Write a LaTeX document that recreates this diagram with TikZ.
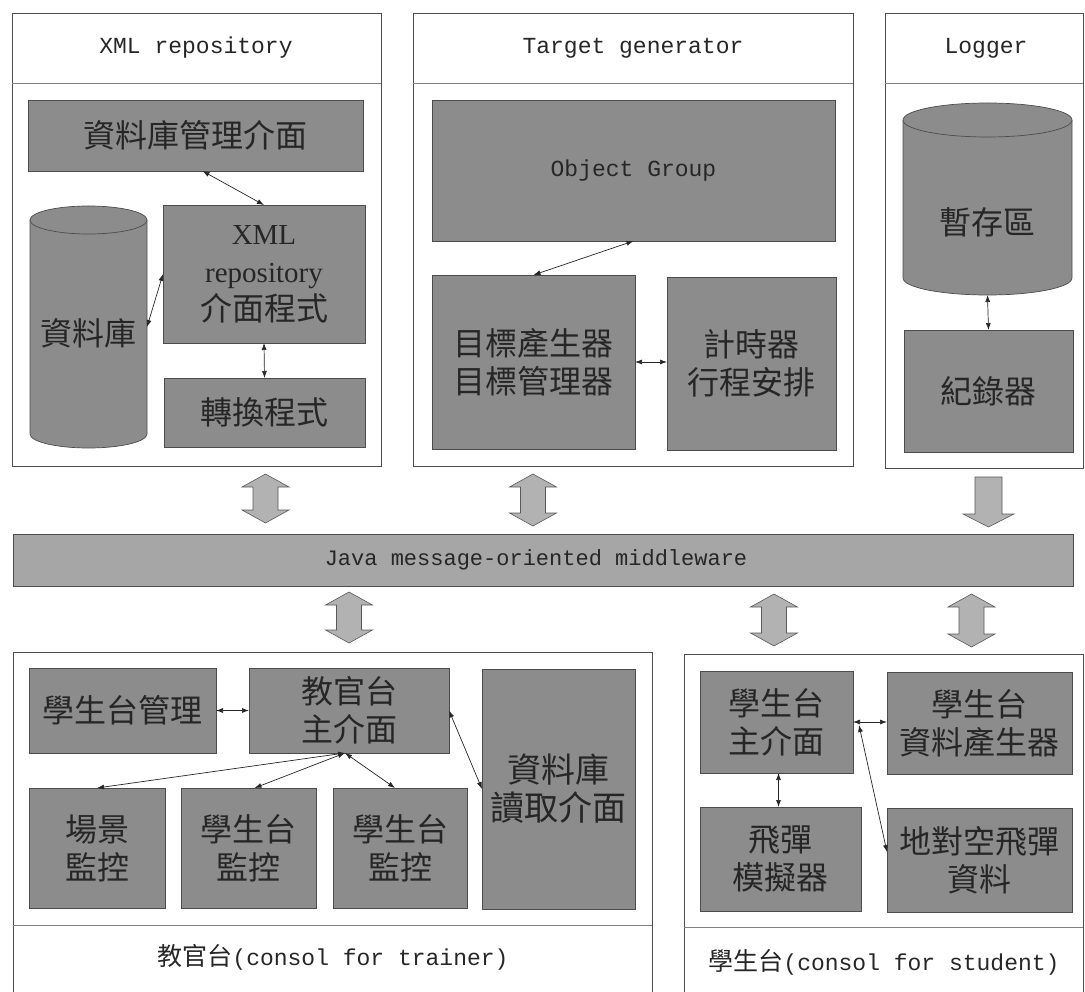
\documentclass[tikz,border=0pt]{standalone}
\usepackage{fontspec}
\setmainfont{Liberation Serif}
\setmonofont{Liberation Mono}
\newfontfamily\cjk{Noto Sans CJK TC}
\usetikzlibrary{arrows.meta}
\newcommand\gb[6]{%
  \node[gbox, anchor=north west, minimum width={(#4-#2)*1pt}, minimum height={(#5-#3)*1pt}] (#1) at (#2,#3) {#6};}
\newcommand\cyl[6]{%
  \pgfmathsetmacro\rxx{(#4-#2)/2}%
  \filldraw[cylbox] (#2,#3+#6) -- (#2,#5-#6) arc[start angle=180,end angle=0,x radius=\rxx,y radius=#6] -- (#4,#3+#6) arc[start angle=0,end angle=-180,x radius=\rxx,y radius=#6] -- cycle;
  \draw[cylbox] (#2,#3+#6) arc[start angle=180,end angle=0,x radius=\rxx,y radius=#6];
  \node[inner sep=0pt, outer sep=0pt, anchor=north west, minimum width={(#4-#2)*1pt}, minimum height={(#5-#3)*1pt}] (#1) at (#2,#3) {};}
\newcommand\dblarr[3]{%
  \filldraw[bigarrow] (#1-23.5,#2+13) -- (#1,#2) -- (#1+23.5,#2+13) -- (#1+12.5,#2+13) -- (#1+12.5,#3-13) -- (#1+23.5,#3-13) -- (#1,#3) -- (#1-23.5,#3-13) -- (#1-12.5,#3-13) -- (#1-12.5,#2+13) -- cycle;}
\begin{document}
\begin{tikzpicture}[x=1pt,y=-1pt,
  panelline/.style={draw=black!70, line width=0.8pt},
  sepline/.style={draw=black!50, line width=0.8pt},
  gbox/.style={draw=black!70, line width=0.7pt, fill=black!45, inner sep=0pt, outer sep=0pt, align=center, text=black!85, font=\cjk\fontsize{32}{38}\selectfont},
  cylbox/.style={draw=black!70, line width=0.7pt, fill=black!45},
  ctext/.style={text=black!85, font=\cjk\fontsize{32}{38}\selectfont},
  ptitle/.style={text=black!85, font=\ttfamily\fontsize{23}{26}\selectfont},
  mwbar/.style={draw=black!70, line width=0.8pt, fill=black!35, inner sep=0pt, outer sep=0pt, text=black!85, font=\ttfamily\fontsize{22}{26}\selectfont},
  link/.style={{Latex[length=7pt,width=5pt]}-{Latex[length=7pt,width=5pt]}, line width=0.7pt, draw=black!85},
  bigarrow/.style={draw=black!65, fill=black!30, line width=0.6pt}
]
\useasboundingbox (0,0) rectangle (1085,992);

% ---------- XML repository panel ----------
\draw[panelline] (12,13) rectangle (381,466);
\draw[sepline] (12,83) -- (381,83);
\node[ptitle] (txml) at (196,48) {XML repository};
\gb{dbm}{28}{100}{363}{171}{資料庫管理介面}
\cyl{db}{30}{206}{147}{448}{14}
\node[ctext] (dblbl) at (88,333) {資料庫};
\gb{xmlb}{163}{205}{365}{343}{\rmfamily\fontsize{29}{40}\selectfont XML\\\rmfamily\fontsize{29}{40}\selectfont repository\\\cjk\fontsize{32}{40}\selectfont 介面程式}
\gb{conv}{164}{378}{365}{447}{轉換程式}
\draw[link] ([xshift=7pt]dbm.south) -- (xmlb.north);
\draw[link] (db.east) -- (xmlb.west);
\draw[link] (xmlb.south) -- (conv.north);

% ---------- Target generator panel ----------
\draw[panelline] (413,13) rectangle (853,466);
\draw[sepline] (413,83) -- (853,83);
\node[ptitle] (ttg) at (633,48) {Target generator};
\gb{og}{432}{100}{835}{241}{\ttfamily\fontsize{23}{26}\selectfont Object Group}
\gb{tg}{432}{275}{635}{449}{\fontsize{32}{40}\selectfont 目標產生器\\\fontsize{32}{40}\selectfont 目標管理器}
\gb{timer}{667}{277}{836}{450}{\fontsize{32}{40}\selectfont 計時器\\\fontsize{32}{40}\selectfont 行程安排}
\draw[link] (og.south) -- (tg.north);
\draw[link] (tg.east) -- (tg.east -| timer.west);

% ---------- Logger panel ----------
\draw[panelline] (885,13) rectangle (1083,468);
\draw[sepline] (885,83) -- (1083,83);
\node[ptitle] (tlog) at (986,48) {Logger};
\cyl{tmp}{903}{103}{1072}{295}{17}
\node[ctext] (tmplbl) at (987,222) {暫存區};
\gb{logb}{904}{330}{1073}{452}{紀錄器}
\draw[link] (tmp.south) -- (logb.north);

% ---------- middleware ----------
\node[mwbar, anchor=north west, minimum width=1060pt, minimum height=52pt] (mw) at (13,534) {};
\node[text=black!85, font=\ttfamily\fontsize{22}{26}\selectfont] (mwlbl) at (536,560) {Java message-oriented middleware};

\dblarr{265.5}{474}{523}
\dblarr{533}{474}{526}
\filldraw[bigarrow] (975,477) -- (1002,477) -- (1002,514) -- (1014,514) -- (988.5,527) -- (963,514) -- (975,514) -- cycle;
\dblarr{349}{592}{643}
\dblarr{774}{594}{646}
\dblarr{971.5}{594}{647}

% ---------- trainer console ----------
\draw[panelline] (13,1000) -- (13,652) -- (652,652) -- (652,1000);
\draw[sepline] (13,925) -- (652,925);
\node[ptitle] (ttr) at (333,957) {{\cjk\fontsize{25}{28}\selectfont 教官台}(consol for trainer)};
\gb{smgr}{29}{668}{216}{753}{學生台管理}
\gb{tmain}{249}{668}{449}{753}{\fontsize{32}{36}\selectfont 教官台\\\fontsize{32}{36}\selectfont 主介面}
\gb{scene}{29}{788}{165}{908}{場景\\監控}
\gb{mon1}{181}{788}{316}{908}{學生台\\監控}
\gb{mon2}{333}{788}{467}{908}{學生台\\監控}
\gb{dbread}{482}{669}{635}{909}{\fontsize{34}{44}\selectfont 資料庫\\\fontsize{34}{44}\selectfont 讀取介面}
\draw[link] (smgr.east) -- (smgr.east -| tmain.west);
\draw[link] ([xshift=-4pt]tmain.south) -- (scene.north);
\draw[link] ([xshift=-4pt]tmain.south) -- ([xshift=6pt]mon1.north);
\draw[link] ([xshift=-4pt]tmain.south) -- ([xshift=-5pt]mon2.north);
\draw[link] (tmain.east) -- (dbread.west);

% ---------- student console ----------
\draw[panelline] (684,1000) -- (684,654) -- (1083,654) -- (1083,1000);
\draw[sepline] (684,927) -- (1083,927);
\node[ptitle] (tst) at (884,962) {{\cjk\fontsize{25}{28}\selectfont 學生台}(consol for student)};
\gb{smain}{700}{671}{853}{773}{\fontsize{32}{37}\selectfont 學生台\\\fontsize{32}{37}\selectfont 主介面}
\gb{sgen}{887}{672}{1072}{774}{\fontsize{32}{37}\selectfont 學生台\\\fontsize{32}{37}\selectfont 資料產生器}
\gb{missile}{700}{807}{861}{911}{\fontsize{32}{37}\selectfont 飛彈\\\fontsize{32}{37}\selectfont 模擬器}
\gb{sam}{887}{808}{1072}{912}{\fontsize{32}{37}\selectfont 地對空飛彈\\\fontsize{32}{37}\selectfont 資料}
\draw[link] (smain.east) -- (smain.east -| sgen.west);
\draw[link] ([xshift=6pt,yshift=-3pt]smain.east) -- ([yshift=8pt]sam.west);
\draw[link] ([xshift=2pt]smain.south) -- ([xshift=2pt]smain.south |- missile.north);
\end{tikzpicture}
\end{document}
